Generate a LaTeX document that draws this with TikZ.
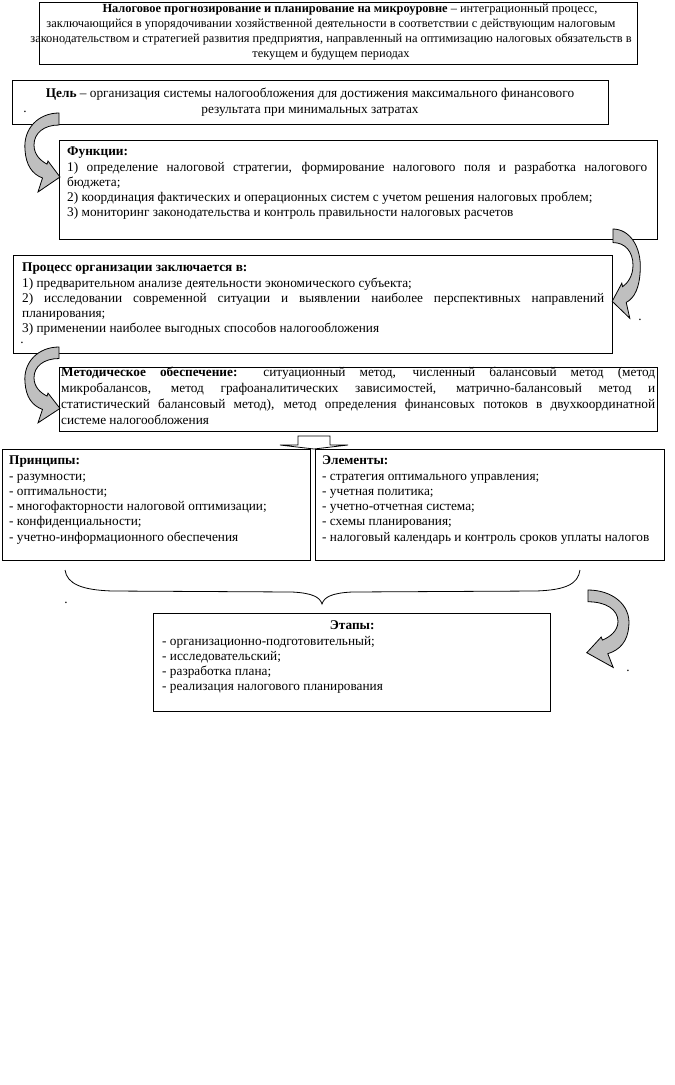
\documentclass[tikz,border=0pt]{standalone}
\usepackage{fontspec}
\setmainfont{Liberation Serif}
\newcommand{\fs}{\fontsize{13.3}{15.3}\selectfont\hyphenpenalty=10000\exhyphenpenalty=10000\tolerance=10000\emergencystretch=20pt}
\newcommand{\fst}{\fontsize{12.4}{15.2}\selectfont}
\newcommand{\fsm}{\fontsize{13.3}{16}\selectfont\hyphenpenalty=10000\exhyphenpenalty=10000\tolerance=10000\emergencystretch=20pt}
\tikzset{
  box/.style={draw, line width=1pt, fill=white, inner sep=0pt, anchor=north west},
  txt/.style={inner sep=0pt, anchor=north west, align=justify, font=\fs},
  ctxt/.style={inner sep=0pt, anchor=north, align=center, font=\fs},
  dotmark/.style={inner sep=0pt, font=\fs},
  curvarrow/.pic={
    \draw[fill=black!25, line width=0.8pt, line join=miter]
      (0,0) .. controls (-20,0) and (-36,15) .. (-34,37)
      .. controls (-33,52) and (-27,61) .. (-16.5,65)
      -- (-21,79) -- (1,64) -- (-11,48) -- (-12,51.1)
      .. controls (-18,48) and (-25,42) .. (-25,32)
      .. controls (-25,20) and (-15,12) .. (0,12) -- cycle;
  }
}
\begin{document}
\begin{tikzpicture}[x=1pt,y=-1pt]
\fill[white] (0,0) rectangle (675,1085);
\useasboundingbox (0,0) rectangle (675,1085);

% boxes
\node[box, minimum width=598pt, minimum height=62pt] (b1) at (39,2) {};
\node[box, minimum width=596pt, minimum height=44pt] (b2) at (12,80) {};
\node[box, minimum width=598pt, minimum height=99pt] (b3) at (59,140) {};
\node[box, minimum width=599pt, minimum height=98pt] (b4) at (13,255) {};
\node[box, minimum width=598pt, minimum height=64pt] (b5) at (59,367) {};
\node[box, minimum width=308pt, minimum height=111pt] (b6) at (2,449) {};
\node[box, minimum width=349pt, minimum height=111pt] (b7) at (315,449) {};
\node[box, minimum width=397pt, minimum height=98pt] (b8) at (153,613) {};

% texts
\node[ctxt, font=\fst] (t1) at (331,1.5) {\strut\hspace*{38pt}\textbf{Налоговое прогнозирование и планирование на микроуровне} – интеграционный процесс,\\
заключающийся в упорядочивании хозяйственной деятельности в соответствии с действующим налоговым\\
законодательством и стратегией развития предприятия, направленный на оптимизацию налоговых обязательств в\\
текущем и будущем периодах};

\node[ctxt] (t2) at (310,86.8) {\strut\textbf{Цель} – организация системы налогообложения для достижения максимального финансового\\
результата при минимальных затратах};

\node[txt, text width=580pt] (t3) at (67,144.8) {\strut\textbf{Функции:}\\
1) определение налоговой стратегии, формирование налогового поля и разработка налогового\linebreak бюджета;\\
2) координация фактических и операционных систем с учетом решения налоговых проблем;\\
3) мониторинг законодательства и контроль правильности налоговых расчетов};

\node[txt, text width=582pt] (t4) at (22,260.8) {\strut\textbf{Процесс организации заключается в:}\\
1) предварительном анализе деятельности экономического субъекта;\\
2) исследовании современной ситуации и выявлении наиболее перспективных направлений\linebreak планирования;\\
3) применении наиболее выгодных способов налогообложения};

\node[txt, font=\fsm, text width=594pt] (t5) at (61,365.3) {\strut\textbf{Методическое обеспечение:} ситуационный метод, численный балансовый метод (метод\linebreak микробалансов, метод графоаналитических зависимостей, матрично-балансовый метод и\linebreak статистический балансовый метод), метод определения финансовых потоков в двухкоординатной\linebreak системе налогообложения};

\node[txt, text width=295pt] (t6) at (9,453.8) {\strut\textbf{Принципы:}\\
- разумности;\\
- оптимальности;\\
- многофакторности налоговой оптимизации;\\
- конфиденциальности;\\
- учетно-информационного обеспечения};

\node[txt, text width=340pt] (t7) at (322,453.8) {\strut\textbf{Элементы:}\\
- стратегия оптимального управления;\\
- учетная политика;\\
- учетно-отчетная система;\\
- схемы планирования;\\
- налоговый календарь и контроль сроков уплаты налогов};

\node[txt, text width=380pt] (t8) at (162,618.8) {\strut\hspace*{\fill}\textbf{Этапы:}\hspace*{\fill}\\
- организационно-подготовительный;\\
- исследовательский;\\
- разработка плана;\\
- реализация налогового планирования};

% flat block arrow between b5 and the two lower boxes
\draw[fill=white, line width=0.8pt, line join=miter] (298,436) -- (330,436) -- (330,445) -- (348,445) -- (314,449) -- (280,445) -- (298,445) -- cycle;

% brace
\draw[line width=0.8pt] (65,570) .. controls (67,584) and (82,590) .. (112,591) -- (292,592)
  .. controls (312,593) and (320,597) .. (322,604)
  .. controls (324,597) and (332,593) .. (352,592) -- (536,591)
  .. controls (566,590) and (578,584) .. (580,570);

% curved arrows
\pic at (59,113) {curvarrow};
\pic[xscale=-0.8, yscale=1.13] at (613,229) {curvarrow};
\pic[yscale=0.96] at (59,347) {curvarrow};
\pic[xscale=-1.2, yscale=0.98] at (588,590) {curvarrow};

% stray marks
\node[dotmark] (d1) at (25,112) {.};
\node[dotmark] (d2) at (22,343) {.};
\node[dotmark] (d3) at (640,320) {.};
\node[dotmark] (d4) at (66,603) {.};
\node[dotmark] (d5) at (628,671) {.};
\end{tikzpicture}
\end{document}
